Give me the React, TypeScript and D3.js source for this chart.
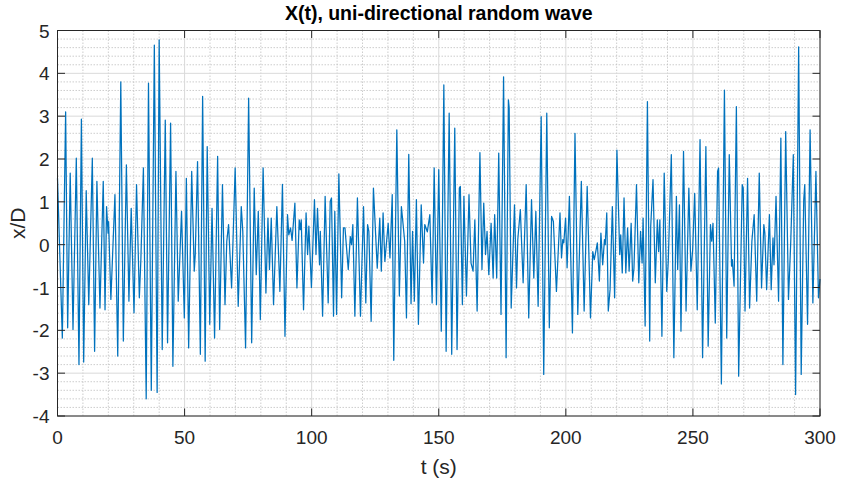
import React from "react";
import * as d3 from "d3";

const timeS: number[] = [
  0, 1.9, 3.2, 4.0, 5.0, 6.1, 7.4, 8.45, 9.4, 10.3, 11.3, 12.3, 13.7, 14.6, 15.5, 16.7, 18.0, 18.7, 19.3, 19.9, 20.1, 21.0, 22.6, 23.7, 24.9,
  25.9, 27.1, 28.1, 29.0, 30.1, 31.1, 32.2, 32.8, 33.8, 34.9, 35.8, 36.9, 38.1, 39.2, 40.0, 41.2, 42.4, 43.3, 44.5, 45.4, 46.6, 47.5, 48.8, 49.9,
  50.7, 51.6, 52.8, 53.8, 54.2, 55.1, 56.2, 57.1, 58.1, 58.9, 59.9, 60.8, 61.8, 63.0, 63.8, 64.9, 65.9, 66.6, 67.3, 68.5, 69.9, 71.1, 72.3, 72.9, 74.0, 75.2,
  76.4, 77.4, 78.2, 79.0, 79.8, 80.9, 82.0, 82.8, 83.4, 84.1, 85.0, 86.3, 87.5, 88.5, 89.5, 90.5, 91.0, 91.7, 92.3, 93.4, 94.2, 95.1, 95.5, 95.9, 96.8, 97.8, 98.4, 98.9, 99.9,
  101.1, 101.7, 102.3, 103.1, 103.4, 104.3, 105.3, 106.5, 107.3, 107.8, 108.6, 109.1, 109.8, 110.7, 111.8, 112.5, 113.1, 114.4, 115.2, 115.7, 116.2, 117.0, 118.0, 119.2, 120.4, 121.3, 122.0, 122.5, 123.4, 124.3, 125.8,
  126.8, 127.4, 128.1, 128.8, 130.1, 130.8, 131.7, 132.3, 133.5, 134.5, 135.3, 136.6, 137.3, 138.2, 139.1, 139.7, 140.4, 141.2, 142.0, 143.1, 144.0, 144.5, 145.5, 146.5, 147.4, 148.2, 149.1, 150.0,
  151.0, 152.0, 152.9, 154.1, 155.1, 156.3, 157.2, 158.1, 158.5, 159.3, 159.9, 160.9, 161.9, 162.7, 163.5, 164.2, 165.1, 166.2, 167.0, 167.7, 168.4, 169.0, 169.7, 170.6, 171.4, 172.0, 172.8, 173.6, 174.5, 175.5,
  176.5, 177.4, 177.7, 178.5, 179.8, 180.6, 181.1, 182.1, 183.2, 184.4, 185.4, 186.5, 187.4, 188.2, 189.1, 190.3, 191.3, 192.5, 193.5, 194.4, 195.1, 196.3, 197.7, 198.3, 198.8, 199.2, 199.9, 200.5,
  201.4, 202.6, 203.6, 204.7, 206.1, 207.2, 208.4, 209.7, 210.6, 211.2, 212.4, 213.2, 213.8, 214.5, 215.2, 215.5, 216.1, 216.7, 217.4, 218.3, 219.2, 220.1, 221.2, 221.6, 222.2, 222.9, 223.6, 224.3, 224.9, 225.7,
  226.3, 226.8, 227.8, 228.7, 229.4, 230.0, 230.4, 231.2, 232.1, 233.0, 233.4, 234.3, 235.2, 236.0, 236.5, 237.0, 237.8, 238.7, 239.7, 240.3, 241.5, 242.5, 243.5, 244.0, 244.7, 245.3, 246.3, 247.3, 248.4, 249.2, 249.9, 250.7,
  251.7, 252.8, 253.8, 255.1, 256.0, 256.9, 257.4, 257.9, 258.8, 259.7, 260.1, 261.2, 262.4, 263.3, 264.3, 265.2, 265.5, 266.2, 267.1, 268.0, 269.4, 269.8, 270.5, 271.5, 272.3, 273.2, 274.1, 275.1, 276.1,
  277.0, 277.9, 278.3, 279.0, 280.1, 280.8, 281.5, 281.9, 282.7, 283.7, 284.6, 285.4, 286.5, 287.6, 288.5, 289.5, 290.4, 291.6, 292.6, 293.6, 294.0, 295.1, 296.1, 297.2, 298.4, 299.4, 300
];

const displacement: number[] = [
  1.55, -2.18, 3.1, -1.94, 1.67, -1.98, 2.02, -2.8, 2.93, -2.74, 1.26, -1.4, 2.02, -2.49, 1.48, -1.48, 1.48, -1.52, 0.89, 0.27, 0.54, -1.28, 1.17, -2.6, 3.8,
  -2.25, 1.86, -1.32, 0.85, -1.59, 1.4, -1.24, -0.35, 1.79, -3.6, 3.77, -3.4, 4.66, -3.45, 4.78, -2.45, 2.91, -2.29, 2.84, -2.84, 1.71, -1.32, 0.78, -1.71,
  1.55, -2.41, 1.71, -0.62, -0.23, 1.94, -2.56, 3.46, -2.72, 2.29, -1.86, 0.85, -2.18, 2.06, -1.98, 1.4, -1.4, 0.08, 0.47, -1.01, 1.79, -1.44, 0.89, 0.31, -2.41, 3.42,
  -2.29, 1.32, -0.7, 0.78, -1.75, 1.79, -1.13, 0.62, -0.58, 0.62, -1.4, 0.89, -1.09, 1.41, -2.14, 0.7, 0.23, 0.39, 0.1, 0.97, -1.01, 0.58, 0.35, 0.58, -1.52, 0.74, -0.23, 0.43, -1.0,
  1.05, -0.23, 0.85, -0.47, 0.31, -1.67, 1.13, -1.36, 1.01, 1.09, -1.67, 0.78, -1.63, 1.65, -1.24, 0.39, 0.39, -0.58, 0.19, 0.0, 0.47, -1.67, 1.09, -1.67, 0.89, -1.36, 0.47, 0.31, -1.79, 1.32, -0.55,
  0.62, -0.62, 0.74, -0.39, 0.5, -0.31, 1.17, -2.7, 2.68, -1.2, 0.89, 0.08, -1.71, 2.11, -1.38, 0.31, -1.32, 1.05, -1.86, 0.93, -0.43, 0.47, 0.3, 0.7, -1.36, 1.79, -1.4, 1.75,
  -2.02, 3.73, -2.49, 3.07, -2.56, 2.72, -2.45, 1.32, 1.36, -1.4, 1.13, -1.2, 1.17, -0.43, -0.62, 0.58, -1.55, 2.15, -0.58, 0.97, -0.23, 0.31, -0.7, 0.5, -0.78, 0.7, -0.78, 2.14, -1.63, 3.92,
  -2.64, 3.38, 3.2, -1.48, 0.93, -1.01, 0.12, 0.82, -0.89, 1.4, -1.71, 1.05, -0.78, 0.78, -1.44, 2.99, -3.03, 3.07, -1.94, 0.66, 0.54, -1.09, 0.74, -0.31, 0.12, 0.04, 0.62, -0.54,
  1.13, -2.06, 2.6, -1.63, 1.48, -1.55, 1.36, -1.71, -0.16, -0.35, 0.04, -0.85, 0.27, -0.47, 0.12, 0.0, 0.74, -1.55, -1.05, 0.89, -1.24, 2.21, -0.23, 0.23, -0.66, 1.09, -0.66, 0.39, -0.62, 0.5,
  -0.85, -0.55, 1.4, -0.89, 0.31, -0.43, 0.62, -1.9, 3.34, -2.25, 0.43, 1.52, -0.89, 0.58, -0.16, 0.58, -2.14, 1.67, -1.09, -0.39, 2.1, -2.64, 1.13, -0.58, 0.93, -2.02, 2.18, -1.55, 1.32, -0.62, -0.12, 1.2,
  -1.52, 2.45, -2.64, 2.29, -2.37, 0.47, 0.08, 0.5, -1.83, 1.71, 1.79, -3.25, 3.61, -2.18, 2.1, -0.5, -0.35, -0.97, 3.22, -3.07, 1.4, 1.32, -1.55, 1.55, -1.48, 0.08, 0.7, -1.32, 1.67,
  -1.01, 0.47, 0.27, -1.05, 0.7, -1.05, 0.16, -0.47, 1.13, -1.32, 2.49, -2.8, 2.64, -1.28, 0.08, 2.1, -3.5, 4.62, -3.03, 1.05, 1.4, -1.86, 2.68, -1.36, 1.71, -1.24, -0.8
];

const xTicks: number[] = [0, 50, 100, 150, 200, 250, 300];
const yTicks: number[] = [-4, -3, -2, -1, 0, 1, 2, 3, 4, 5];
const titleText = "X(t), uni-directional random wave";
const xLabel = "t (s)";
const yLabel = "x/D";

export default function App() {
  const W = 841, H = 484;
  const L = 57.5, R = 820, T = 30.5, B = 416;
  const x = d3.scaleLinear().domain([0, 300]).range([L, R]);
  const y = d3.scaleLinear().domain([-4, 5]).range([B, T]);
  const pts: [number, number][] = timeS.map((t, i) => [t, displacement[i]]);
  const line = d3.line<[number, number]>().x(d => x(d[0])).y(d => y(d[1]));
  const xMinor = d3.range(0, 301, 10).filter(v => v % 50 !== 0);
  const yMinor = d3.range(-40, 51, 2).map(v => v / 10).filter(v => Math.abs(v - Math.round(v)) > 1e-6);
  const font = "'Liberation Sans', Arial, Helvetica, sans-serif";
  const axisColor = "#262626";
  const tickLen = 7.5;
  return (
    <svg width={W} height={H} style={{ position: "absolute", left: 0, top: 0, background: "#fff" }}>
      <rect x={0} y={0} width={W} height={H} fill="#fff" />
      {xMinor.map(v => (
        <line key={"xm" + v} x1={x(v)} x2={x(v)} y1={T} y2={B} stroke="#c0c0c0" strokeWidth={0.8} strokeDasharray="1.5,1.5" />
      ))}
      {yMinor.map(v => (
        <line key={"ym" + v} x1={L} x2={R} y1={y(v)} y2={y(v)} stroke="#c0c0c0" strokeWidth={0.8} strokeDasharray="1.5,1.5" />
      ))}
      {xTicks.map(v => (
        <line key={"xg" + v} x1={x(v)} x2={x(v)} y1={T} y2={B} stroke="#dadada" strokeWidth={1} />
      ))}
      {yTicks.map(v => (
        <line key={"yg" + v} x1={L} x2={R} y1={y(v)} y2={y(v)} stroke="#dadada" strokeWidth={1} />
      ))}
      <path d={line(pts) || ""} fill="none" stroke="#0072BD" strokeWidth={1.25} strokeLinejoin="round" />
      <rect x={L} y={T} width={R - L} height={B - T} fill="none" stroke={axisColor} strokeWidth={1} />
      {xTicks.map(v => (
        <g key={"xt" + v}>
          <line x1={x(v)} x2={x(v)} y1={B} y2={B - tickLen} stroke={axisColor} />
          <line x1={x(v)} x2={x(v)} y1={T} y2={T + tickLen} stroke={axisColor} />
          <text x={x(v)} y={B + 28} textAnchor="middle" fontFamily={font} fontSize={19} fill={axisColor}>{String(v)}</text>
        </g>
      ))}
      {yTicks.map(v => (
        <g key={"yt" + v}>
          <line x1={L} x2={L + tickLen} y1={y(v)} y2={y(v)} stroke={axisColor} />
          <line x1={R} x2={R - tickLen} y1={y(v)} y2={y(v)} stroke={axisColor} />
          <text x={L - 8} y={y(v) + 7} textAnchor="end" fontFamily={font} fontSize={19} fill={axisColor}>{v < 0 ? "-" + Math.abs(v) : String(v)}</text>
        </g>
      ))}
      <text x={(L + R) / 2} y={20} textAnchor="middle" fontFamily={font} fontSize={19.5} fontWeight="bold" fill="#000">{titleText}</text>
      <text x={(L + R) / 2} y={474} textAnchor="middle" fontFamily={font} fontSize={21} fill={axisColor}>{xLabel}</text>
      <text transform={`translate(25, ${(T + B) / 2}) rotate(-90)`} textAnchor="middle" fontFamily={font} fontSize={21} fill={axisColor}>{yLabel}</text>
    </svg>
  );
}
